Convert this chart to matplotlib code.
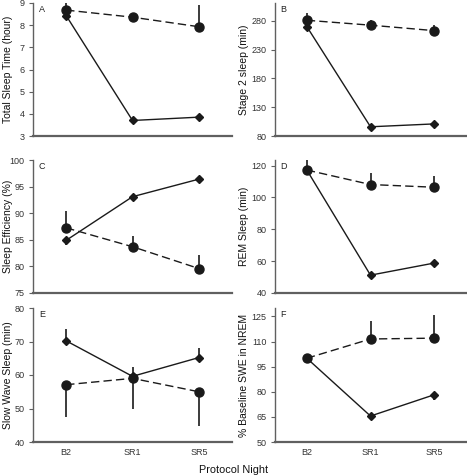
import matplotlib
matplotlib.use("Agg")
import matplotlib.pyplot as plt

plt.rcParams['font.family'] = ['Liberation Sans', 'DejaVu Sans']

nights = ['B2', 'SR1', 'SR5']
xpos = [0.5, 1.5, 2.5]

# solid line = sleep restriction, dashed line = control
tst_sr = [8.43, 3.70, 3.85]
tst_ctl = [8.68, 8.36, 7.93]
tst_ctl_up = [0.35, 0.0, 0.98]

st2_sr = [270, 96, 101]
st2_sr_err = [0, 0, 5]
st2_ctl = [281, 272.5, 263]
st2_ctl_up = [12, 8.5, 9.5]

se_sr = [84.9, 93.1, 96.4]
se_sr_down = [0.9, 0, 0]
se_ctl = [87.25, 83.7, 79.6]
se_ctl_up = [3.15, 2.0, 2.6]

rem_sr = [117.2, 51.2, 58.8]
rem_ctl = [117.2, 108.1, 106.4]
rem_ctl_up = [6.0, 7.4, 6.9]

sws_sr = [70.2, 59.6, 65.2]
sws_sr_up = [3.4, 2.8, 2.8]
sws_ctl = [57.1, 59.0, 55.0]
sws_ctl_down = [9.7, 9.1, 10.1]

swe_sr = [100, 65.5, 78.2]
swe_sr_down = [0, 0, 3.0]
swe_ctl = [100, 111.5, 112]
swe_ctl_up = [0, 10.5, 14]

ink = '#1a1a1a'
spine = '#606060'

fig = plt.figure(figsize=(4.67, 4.76), dpi=100)
left_l, w_l = 33 / 467, 199 / 467
left_r, w_r = 275 / 467, 191 / 467
rows = [(1 - 136 / 476, 133 / 476), (1 - 293 / 476, 133 / 476), (1 - 442 / 476, 134 / 476)]


def panel(rect, letter, ylabel, ylim, yticks, sr, sr_err, ctl, ctl_err, bottom, label_x):
    ax = fig.add_axes(rect)
    ax.plot(xpos, sr, '-', color=ink, lw=1.0, marker='D', ms=4.2, zorder=3)
    ax.errorbar(xpos, sr, yerr=sr_err, fmt='none', ecolor=ink, elinewidth=1.2, capsize=0, zorder=2)
    ax.plot(xpos, ctl, '--', dashes=(6, 3), color=ink, lw=1.0, marker='o', ms=6.5, zorder=3)
    ax.errorbar(xpos, ctl, yerr=ctl_err, fmt='none', ecolor=ink, elinewidth=1.2, capsize=0, zorder=2)
    ax.set_xlim(0, 3)
    ax.set_ylim(*ylim)
    ax.set_yticks(yticks)
    ax.set_xticks(xpos)
    if bottom:
        ax.set_xticklabels(nights)
    else:
        ax.set_xticklabels([])
    ax.tick_params(axis='x', length=0, labelsize=6.5, pad=4, colors='#333333')
    ax.tick_params(axis='y', length=3, width=0.8, direction='out', labelsize=6.5, pad=3,
                   colors=spine, labelcolor='#333333')
    for s in ['top', 'right']:
        ax.spines[s].set_visible(False)
    ax.spines['left'].set_color(spine)
    ax.spines['left'].set_linewidth(1.0)
    ax.spines['bottom'].set_color(spine)
    ax.spines['bottom'].set_linewidth(1.6)
    ax.set_ylabel(ylabel, fontsize=7.5, color='#111111', va='center')
    ax.yaxis.set_label_coords(label_x, 0.5)
    ax.text(0.03, 0.985, letter, transform=ax.transAxes, fontsize=6.5, va='top', ha='left', color='#222222')
    return ax


lx_l = (8 - 33) / 199
lx_r = (244 - 275) / 191

panel([left_l, rows[0][0], w_l, rows[0][1]], 'A', 'Total Sleep Time (hour)', (3, 9), range(3, 10),
      tst_sr, None, tst_ctl, [[0, 0, 0], tst_ctl_up], False, lx_l)
panel([left_r, rows[0][0], w_r, rows[0][1]], 'B', 'Stage 2 sleep (min)', (80, 311), range(80, 281, 50),
      st2_sr, st2_sr_err, st2_ctl, [[0, 0, 0], st2_ctl_up], False, lx_r)
panel([left_l, rows[1][0], w_l, rows[1][1]], 'C', 'Sleep Efficiency (%)', (75, 100), range(75, 101, 5),
      se_sr, [se_sr_down, [0, 0, 0]], se_ctl, [[0, 0, 0], se_ctl_up], False, lx_l)
panel([left_r, rows[1][0], w_r, rows[1][1]], 'D', 'REM Sleep (min)', (40, 123.5), range(40, 121, 20),
      rem_sr, None, rem_ctl, [[0, 0, 0], rem_ctl_up], False, lx_r)
panel([left_l, rows[2][0], w_l, rows[2][1]], 'E', 'Slow Wave Sleep (min)', (40, 80), range(40, 81, 10),
      sws_sr, [[0, 0, 0], sws_sr_up], sws_ctl, [sws_ctl_down, [0, 0, 0]], True, lx_l)
panel([left_r, rows[2][0], w_r, rows[2][1]], 'F', '% Baseline SWE in NREM', (50, 130), range(50, 126, 15),
      swe_sr, [swe_sr_down, [0, 0, 0]], swe_ctl, [[0, 0, 0], swe_ctl_up], True, lx_r)

fig.text(0.5, 0.002, 'Protocol Night', ha='center', va='bottom', fontsize=7.8, color='#111111')

fig.savefig('out.png', dpi=100)
